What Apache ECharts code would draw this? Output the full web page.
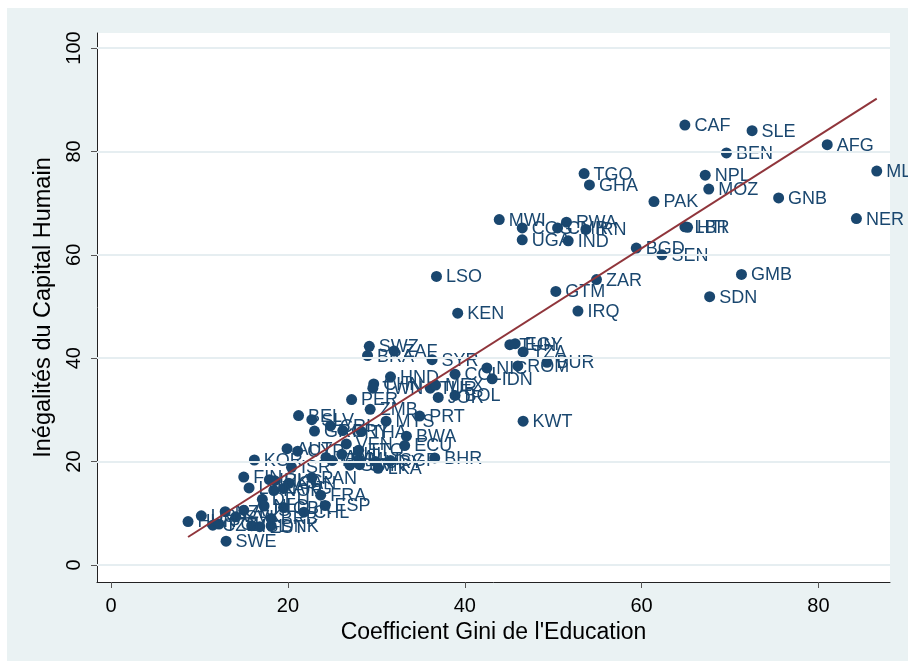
<!DOCTYPE html>
<html>
<head>
<meta charset="utf-8">
<script src="https://cdn.jsdelivr.net/npm/echarts@6/dist/echarts.min.js"></script>
<style>
html, body { margin: 0; padding: 0; background: #fff; }
#chart { position: absolute; left: 7px; top: 8px; width: 901px; height: 653px; }
</style>
</head>
<body>
<div id="chart"></div>
<script>
// pays (codes), Gini de l'education, inegalites du capital humain
const codes = [
  'CAF','SLE','AFG','BEN','MLI','TGO','NPL','GHA','MOZ','GNB',
  'PAK','NER','MWI','RWA','COG','CMR','IRN','LBR','HTI','UGA',
  'IND','BGD','SEN','GMB','LSO','ZAR','GTM','SDN','KEN','IRQ',
  'TUN','EGY','SWZ','ZAF','TZA','BRA','SYR','BUR','ROM','NIC',
  'COL','HND','IDN','CHN','TWN','TUR','MEX','JOR','BOL','PER',
  'ZMB','PRT','BEL','SLV','MYS','KWT','CRI','PRY','GRC','THA',
  'VEN','BWA','ECU','BHR','AUT','CYP','JAM','ITA','PHL','TTO',
  'MLT','URY','SVN','LKA','SGP','GUY','KOR','ISR','FIN','PAN',
  'IRL','HKG','LUX','NOR','ARG','CAN','FRA','ESP','DEU','NLD',
  'GBR','CHL','AUS','NZL','USA','HUN','CZE','POL','SVK','ISL',
  'EST','DNK','BRB','SWE'
];
const giniEdu = [
  64.9, 72.5, 81.0, 69.6, 86.6, 53.5, 67.2, 54.1, 67.6, 75.5,
  61.4, 84.3, 43.9, 51.5, 46.5, 50.5, 53.7, 64.9, 65.2, 46.5,
  51.7, 59.4, 62.3, 71.3, 36.8, 54.9, 50.3, 67.7, 39.2, 52.8,
  45.1, 45.7, 29.2, 32.0, 46.6, 29.0, 36.3, 49.3, 46.0, 42.5,
  38.9, 31.6, 43.1, 29.7, 29.6, 36.1, 36.7, 37.0, 38.9, 27.2,
  29.3, 34.9, 21.2, 22.7, 31.1, 46.6, 24.8, 26.2, 23.0, 28.3,
  26.6, 33.4, 33.2, 36.6, 19.9, 21.1, 24.3, 25.0, 26.1, 28.0,
  28.0, 29.9, 28.1, 30.2, 31.6, 27.0, 16.2, 20.4, 15.0, 22.7,
  17.9, 18.5, 15.6, 18.4, 19.5, 20.1, 23.7, 24.2, 17.1, 17.3,
  19.5, 21.8, 15.0, 12.9, 10.2, 8.7, 11.5, 12.2, 14.1, 15.9,
  16.8, 18.1, 18.1, 13.0
];
const inegalites = [
  85.1, 84.0, 81.3, 79.7, 76.2, 75.7, 75.4, 73.5, 72.7, 71.0,
  70.3, 67.0, 66.8, 66.3, 65.2, 65.2, 64.9, 65.4, 65.3, 62.9,
  62.7, 61.3, 60.0, 56.2, 55.8, 55.2, 52.9, 51.9, 48.7, 49.1,
  42.6, 42.8, 42.3, 41.4, 41.2, 40.5, 39.7, 39.2, 38.5, 38.1,
  36.9, 36.4, 36.0, 35.0, 34.2, 34.2, 34.8, 32.4, 32.8, 32.0,
  30.1, 28.8, 28.9, 28.1, 27.8, 27.8, 26.9, 26.0, 25.9, 25.8,
  23.4, 24.9, 23.1, 20.7, 22.5, 22.0, 20.8, 20.2, 21.4, 22.2,
  20.4, 20.0, 19.4, 18.7, 20.2, 19.3, 20.3, 18.9, 17.0, 16.9,
  16.5, 16.3, 14.9, 14.4, 14.8, 15.8, 13.5, 11.5, 12.7, 11.4,
  11.1, 10.2, 10.6, 10.3, 9.5, 8.4, 7.7, 7.9, 9.3, 7.6,
  7.4, 7.6, 9.0, 4.6
];
// droite de regression (valeurs ajustees aux extremites)
const fitX = [8.7, 86.6];
const fitY = [5.4, 90.2];
const xTicks = [0, 20, 40, 60, 80];
const yTicks = [0, 20, 40, 60, 80, 100];

const navy = '#1a476f';
const font = '"Liberation Sans", Arial, sans-serif';

const chart = echarts.init(document.getElementById('chart'));

const points = codes.map((c, i) => ({ name: c, value: [giniEdu[i], inegalites[i]] }));

const option = {
  backgroundColor: '#eaf2f3',
  animation: false,
  grid: {
    left: 90,
    top: 25,
    right: 18,
    bottom: 79,
    show: true,
    backgroundColor: '#ffffff',
    borderWidth: 0
  },
  xAxis: {
    type: 'value',
    min: -1.6,
    max: 88.1,
    name: "Coefficient Gini de l'Education",
    nameLocation: 'middle',
    nameGap: 37,
    nameTextStyle: { fontFamily: font, fontSize: 23, color: '#000' },
    axisLine: { show: true, onZero: false, lineStyle: { color: '#222', width: 1 } },
    axisTick: { show: true, length: 6, customValues: xTicks, lineStyle: { color: '#555' } },
    axisLabel: { customValues: xTicks, margin: 14, fontFamily: font, fontSize: 20, color: '#000' },
    splitLine: { show: false }
  },
  yAxis: {
    type: 'value',
    min: -3.3,
    max: 102.9,
    name: 'Inégalités du Capital Humain',
    nameLocation: 'middle',
    nameGap: 41,
    nameTextStyle: { fontFamily: font, fontSize: 23.5, color: '#000' },
    axisLine: { show: true, onZero: false, lineStyle: { color: '#222', width: 1 } },
    axisTick: { show: true, length: 6, customValues: yTicks, lineStyle: { color: '#555' } },
    axisLabel: { customValues: yTicks, rotate: 90, margin: 13, fontFamily: font, fontSize: 20, color: '#000' },
    splitLine: { show: false }
  },
  series: [
    {
      type: 'line',
      data: [],
      silent: true,
      z: 1,
      markLine: {
        silent: true,
        symbol: 'none',
        label: { show: false },
        lineStyle: { color: '#e6eef1', width: 2, type: 'solid' },
        data: yTicks.map(v => ({ yAxis: v }))
      }
    },
    {
      type: 'scatter',
      data: points,
      symbol: 'circle',
      symbolSize: 11,
      z: 3,
      itemStyle: { color: navy, opacity: 1 },
      label: {
        show: true,
        position: 'right',
        distance: 4,
        offset: [0, 1],
        formatter: p => p.name,
        fontFamily: font,
        fontSize: 18,
        color: navy
      }
    },
    {
      type: 'line',
      data: fitX.map((x, i) => [x, fitY[i]]),
      symbol: 'none',
      z: 5,
      lineStyle: { color: '#90353b', width: 2 }
    }
  ]
};

chart.setOption(option);

window.addEventListener('resize', () => {
  chart.resize();
});
</script>
</body>
</html>
